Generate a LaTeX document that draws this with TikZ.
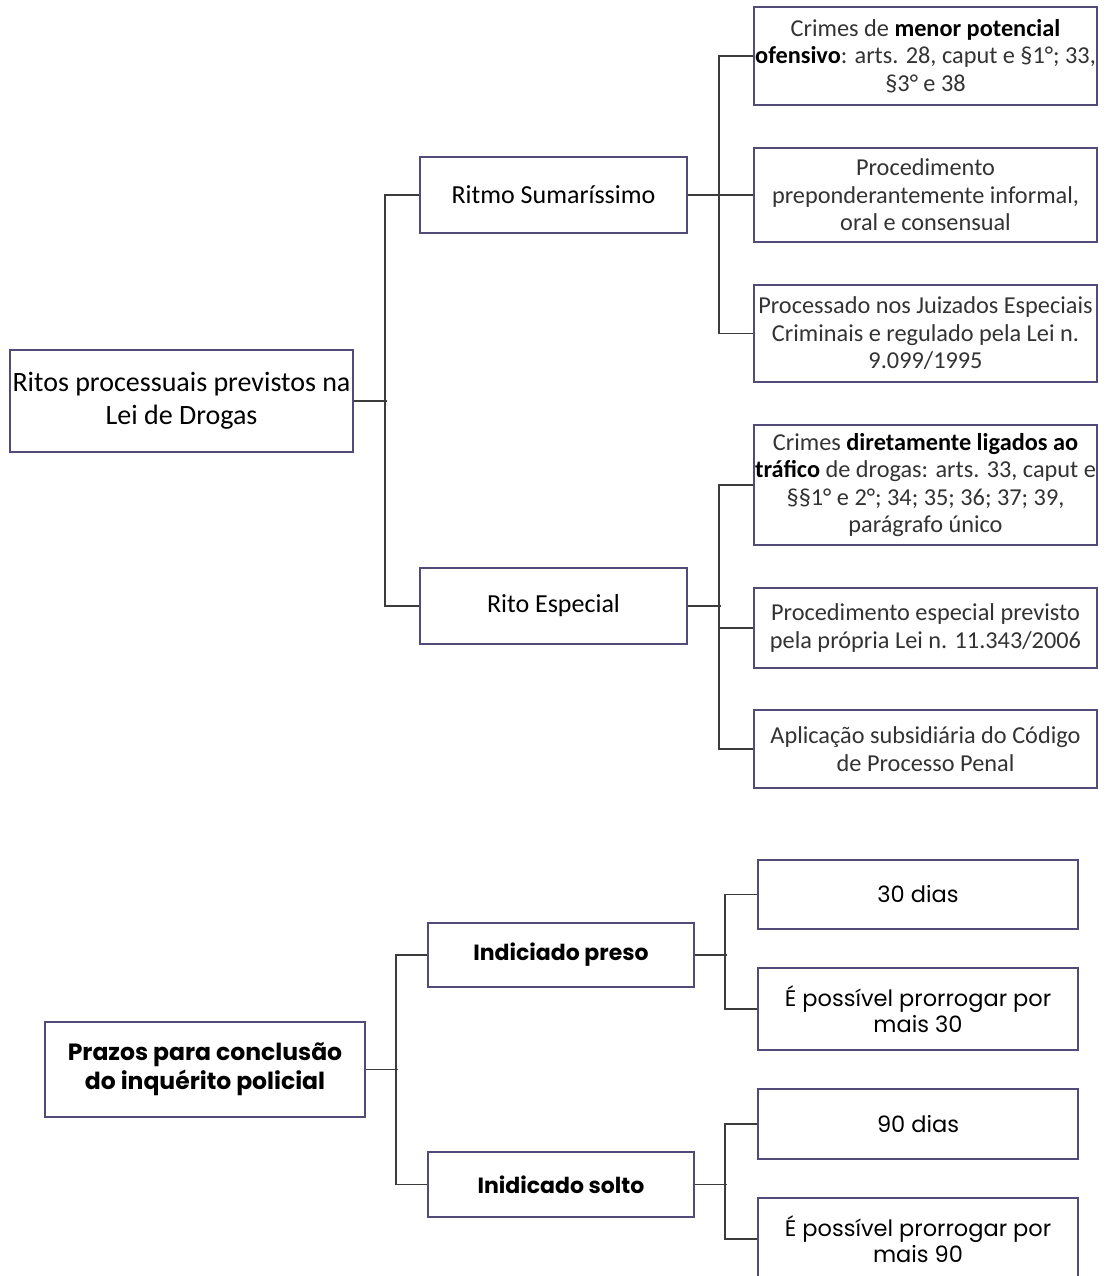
\documentclass[tikz,border=0pt]{standalone}
\usepackage{fontspec}
\setmainfont{Carlito}
\newfontfamily\popfont{Poppins}
\definecolor{boxline}{HTML}{524A78}
\definecolor{conn}{HTML}{3C3C3C}
\definecolor{txtgray}{HTML}{333333}
\begin{document}
\begin{tikzpicture}[x=1pt,y=-1pt,
  box/.style={draw=boxline,line width=1.6pt,fill=white,rectangle,inner sep=0pt,align=center},
  cbox/.style={box,minimum width=343pt,font=\fontsize{24.3}{27.5}\selectfont\color{txtgray}},
  midbox/.style={box,minimum width=267pt,minimum height=76pt,font=\fontsize{26}{30}\selectfont},
  pbox/.style={box,font=\popfont\fontsize{22.5}{25.5}\selectfont},
  link/.style={draw=conn,line width=1.5pt}]
\useasboundingbox[fill=white] (0,0) rectangle (1104,1276);

% ---------- top diagram ----------
\node[box,minimum width=343pt,minimum height=102pt,font=\fontsize{28}{33}\selectfont] (root) at (181.5,401) {Ritos processuais previstos na\\Lei de Drogas};
\node[midbox] (ritmo) at (553.5,195) {Ritmo Sumaríssimo};
\node[midbox] (esp) at (553.5,606) {Rito Especial};

\node[cbox,minimum height=98pt] (c1) at (925.5,56) {Crimes de \textbf{\color{black}menor potencial}\\\textbf{\color{black}ofensivo}: arts. 28, caput e §1°; 33,\\§3° e 38};
\node[cbox,minimum height=94pt] (c2) at (925.5,195) {Procedimento\\preponderantemente informal,\\oral e consensual};
\node[cbox,minimum height=97pt] (c3) at (925.5,333.5) {Processado nos Juizados Especiais\\Criminais e regulado pela Lei n.\\9.099/1995};

\node[cbox,minimum height=120pt] (d1) at (925.5,485) {Crimes \textbf{\color{black}diretamente ligados ao}\\\textbf{\color{black}tráfico} de drogas: arts. 33, caput e\\§§1° e 2°; 34; 35; 36; 37; 39,\\parágrafo único};
\node[cbox,minimum height=80pt] (d2) at (925.5,628) {Procedimento especial previsto\\pela própria Lei n. 11.343/2006};
\node[cbox,minimum height=78pt] (d3) at (925.5,749) {Aplicação subsidiária do Código\\de Processo Penal};

\draw[link] (root.east) -- ++(33,0);
\draw[link] (ritmo.west) -- ++(-34,0) |- (esp.west);
\draw[link] (ritmo.east) -- ++(33,0);
\draw[link] (c1.west) -- ++(-34,0) |- (c3.west);
\draw[link] (c2.west) -- ++(-34,0);
\draw[link] (esp.east) -- ++(33,0);
\draw[link] (d1.west) -- ++(-34,0) |- (d3.west);
\draw[link] (d2.west) -- ++(-34,0);

% ---------- bottom diagram ----------
\node[pbox,minimum width=320pt,minimum height=95pt,font=\popfont\fontsize{23.5}{29}\selectfont\bfseries] (root2) at (205,1069.5) {Prazos para conclusão\\do inquérito policial};
\node[pbox,minimum width=266pt,minimum height=64pt,font=\popfont\fontsize{22}{27}\selectfont\bfseries] (preso) at (561,955) {Indiciado preso};
\node[pbox,minimum width=266pt,minimum height=65pt,font=\popfont\fontsize{22}{27}\selectfont\bfseries] (solto) at (561,1184.5) {Inidicado solto};

\node[pbox,minimum width=320pt,minimum height=69pt] (e1) at (918,894.5) {30 dias};
\node[pbox,minimum width=320pt,minimum height=82pt] (e2) at (918,1009) {É possível prorrogar por\\mais 30};
\node[pbox,minimum width=320pt,minimum height=70pt] (f1) at (918,1124) {90 dias};
\node[pbox,minimum width=320pt,minimum height=82pt] (f2) at (918,1239) {É possível prorrogar por\\mais 90};

\draw[link] (root2.east) -- ++(32,0);
\draw[link] (preso.west) -- ++(-31,0) |- (solto.west);
\draw[link] (preso.east) -- ++(32,0);
\draw[link] (e1.west) -- ++(-32,0) |- (e2.west);
\draw[link] (solto.east) -- ++(32,0);
\draw[link] (f1.west) -- ++(-32,0) |- (f2.west);
\end{tikzpicture}
\end{document}
